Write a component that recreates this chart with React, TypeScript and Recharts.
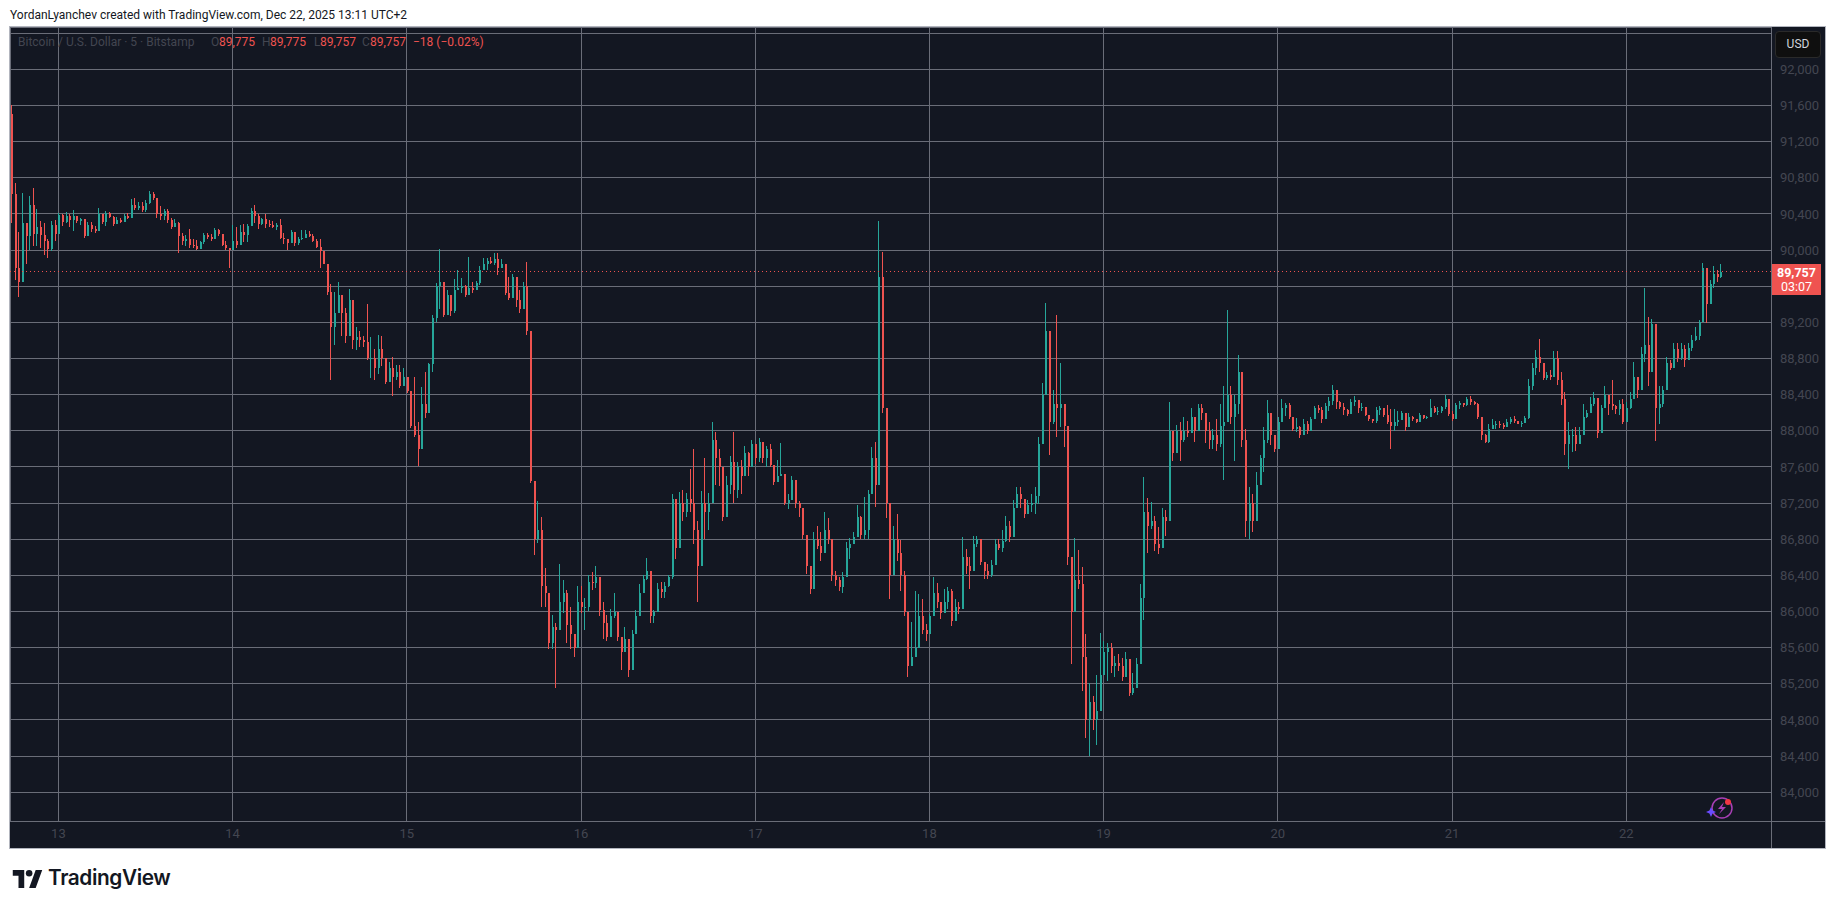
import { Bar, CartesianGrid, ComposedChart, ReferenceLine, XAxis, YAxis } from "recharts";

// bars every 30 minutes, one row per day
const highs = [
  // dec 12 evening
  91605,90740,90200,90630,90300,90600,90690,90450,90320,90300,90120,90320,90330,
  // dec 13
  90415,90400,90420,90400,90440,90350,90360,90330,90310,90310,90270,90470,90400,90430,90420,90380,90370,90360,90400,90410,90570,90580,90530,90530,90550,90650,90640,90550,90490,90450,90450,90350,90340,90310,90190,90170,90230,90120,90110,90100,90190,90190,90180,90240,90230,90170,90100,90020,
  // dec 14
  90280,90260,90280,90290,90290,90470,90500,90400,90360,90400,90330,90320,90300,90345,90190,90110,90220,90200,90140,90220,90220,90210,90180,90120,90120,89990,89830,89620,89540,89650,89500,89360,89570,89240,89150,89100,89050,89400,89040,88900,89060,89050,88760,88760,88820,88730,88730,88700,
  // dec 15
  88600,88340,88600,88100,88480,88650,88750,89280,89630,90010,89480,89560,89500,89680,89780,89690,89610,89920,89650,89660,89820,89910,89910,89920,89970,89970,89900,89830,89700,89740,89580,89560,89650,89870,89080,87370,87220,87050,86480,85960,85960,85870,86530,86350,86240,86050,85720,86280,
  // dec 16
  86280,86150,86400,86440,86500,86300,86110,85960,86030,86210,85830,85700,85830,85690,85800,86020,86300,86400,86590,86350,86020,86320,86330,86330,86400,87300,87120,87320,87340,87310,87580,87800,87000,87330,87700,87310,88100,87990,87800,87400,87500,87720,87990,87660,87680,87830,87770,87900,
  // dec 17
  87830,87920,87830,87830,87850,87530,87680,87870,87500,87300,87500,87400,87220,87080,86840,86450,86880,86950,86880,87100,87040,86710,86450,86380,86440,86770,86810,86880,87180,87060,87270,87340,87820,87880,90320,89980,87690,87080,86950,87080,86790,86450,85950,85880,86230,86190,86140,85860,
  // dec 18
  85970,86380,86320,86100,86250,86270,86250,86140,86100,86820,86690,86600,86840,86840,86670,86530,86530,86570,86800,86800,86900,87060,87000,87230,87380,87380,87190,87230,87300,87380,87930,88530,89410,89080,88450,89280,88750,88230,87980,86520,86810,86680,86490,85750,85210,85060,85300,85760,
  // dec 19
  85670,85650,85650,85510,85530,85490,85550,85340,85320,85490,86300,87490,87260,87210,87060,86930,87150,87120,88320,87890,88060,88100,88150,88110,88250,88100,88300,88300,88190,88100,88020,88130,88300,88490,89340,88490,88400,88840,88260,88020,87380,87300,87540,87730,88040,88340,88040,87900,
  // dec 20
  88150,88350,88310,88310,88140,88140,88050,88130,88110,88150,88270,88290,88260,88310,88370,88510,88400,88330,88310,88240,88350,88390,88310,88310,88220,88160,88130,88260,88270,88220,88290,88240,88240,88220,88220,88130,88200,88160,88130,88200,88180,88160,88350,88270,88260,88270,88400,88270,
  // dec 21
  88220,88310,88330,88310,88370,88390,88330,88310,88110,87960,88070,88130,88110,88110,88090,88130,88150,88160,88110,88110,88160,88570,88750,88890,89020,88690,88650,88670,88880,88880,88650,88430,88100,88020,88040,88040,88300,88230,88370,88430,88280,88280,88490,88350,88560,88280,88340,88350,
  // dec 22
  88320,88430,88760,88600,88930,89580,89260,89240,89020,88500,88500,88820,88780,88970,88970,88970,88950,88970,89060,89150,89230,89855,89730,89670,89820,89780,89840,
];

const lows = [
  90300,89670,89480,89850,89850,90000,90040,90040,90020,89950,89912,89990,90100,
  90300,90270,90300,90250,90210,90300,90280,90130,90150,90200,90190,90270,90290,90270,90350,90270,90290,90300,90350,90340,90370,90440,90440,90420,90420,90510,90550,90350,90330,90330,90300,90230,90250,89970,90060,90040,90020,90020,90000,90030,90070,90120,90100,90180,90160,90040,90000,89800,
  90000,90020,90130,90090,90090,90270,90300,90230,90280,90240,90250,90240,90220,90120,90070,90000,90080,90050,90060,90110,90140,90140,90090,90020,89805,89840,89500,88560,88950,89350,89050,88970,89140,88900,88890,88930,88930,88780,88580,88560,88630,88720,88520,88540,88390,88560,88470,88500,
  88420,88030,87930,87610,88080,88140,88400,88650,89200,89350,89260,89280,89270,89300,89560,89520,89480,89550,89520,89570,89610,89800,89780,89840,89830,89720,89800,89500,89450,89470,89370,89300,89460,89060,87420,86630,86760,86050,86050,85590,85590,85150,85960,85980,85650,85590,85500,85760,
  85980,85800,86010,86240,86260,85950,85700,85670,85820,85930,85670,85350,85650,85270,85450,85840,85950,86300,86350,85870,85870,85990,86150,86150,86270,86360,86580,87000,87000,87050,87100,86750,86100,86850,86800,86900,87400,87400,87390,87000,87080,87300,87200,87260,87300,87570,87500,87660,
  87630,87660,87640,87600,87600,87400,87480,87500,87180,87130,87230,87150,87050,86800,86420,86190,86560,86690,86560,86670,86750,86340,86280,86230,86210,86530,86580,86750,86840,86800,86800,86800,87340,87160,87900,88200,87030,86140,86490,86560,86230,85950,85270,85400,85550,85790,85750,85670,
  85820,86030,86040,85920,86030,86030,85840,85930,85970,86040,86420,86250,86650,86710,86510,86360,86360,86380,86580,86680,86660,86770,86770,87010,87190,87150,87040,87080,87100,87080,87190,87860,88750,87730,88080,87930,88040,87820,86520,85420,86230,86250,85120,84600,84400,84690,84520,85170,
  85340,85230,85320,85270,85340,85230,85270,85060,85080,85160,85560,85910,86650,86910,86670,86640,86930,86840,87150,87670,87780,87670,87880,87930,88020,87880,88000,88120,87860,87800,87800,87780,87820,87450,88150,88080,87670,88190,87820,86820,86800,86880,87080,87540,87540,87860,87840,87760,
  87990,88100,88160,88130,88000,87990,87920,87980,87960,88070,88140,88200,88090,88200,88220,88280,88240,88240,88180,88160,88250,88270,88200,88220,88160,88110,88090,88090,88180,88150,88070,87800,88000,88050,88130,88000,88110,88110,88090,88140,88130,88130,88220,88200,88180,88200,88240,88160,
  88110,88220,88240,88260,88270,88290,88290,88130,87900,87860,87870,88020,88020,88030,88020,88070,88070,88090,88070,88040,88090,88130,88450,88620,88650,88560,88560,88560,88670,88510,88280,87730,87580,87760,87780,87860,87950,88140,88210,88270,87920,88100,88300,88170,88230,88190,88170,88080,
  88100,88240,88430,88360,88470,88760,88490,88980,87890,88080,88260,88540,88670,88800,88760,88780,88710,88800,88880,88990,89000,89430,89190,89450,89580,89650,89690,
];

const closes = [
  90620,89800,89650,90300,90150,90500,90180,90250,90170,90100,90010,90280,90180,
  90390,90310,90380,90330,90380,90320,90340,90150,90280,90230,90210,90400,90310,90410,90370,90290,90330,90310,90380,90360,90500,90470,90490,90440,90520,90620,90580,90400,90380,90430,90330,90260,90300,90150,90100,90120,90060,90040,90010,90090,90170,90140,90120,90220,90180,90060,90020,90000,
  90100,90060,90200,90170,90270,90430,90380,90290,90340,90290,90280,90260,90280,90130,90120,90080,90200,90080,90120,90130,90180,90160,90100,90030,89990,89850,89540,89150,89300,89500,89300,89050,89450,89000,89040,89000,88980,88800,88800,88700,88900,88800,88540,88700,88600,88650,88500,88600,
  88440,88050,87950,87800,88300,88200,88740,89250,89600,89650,89280,89500,89320,89560,89580,89600,89500,89580,89560,89630,89780,89850,89880,89860,89900,89800,89850,89530,89470,89700,89450,89350,89600,89100,87440,86800,86900,86280,86200,85650,85830,85800,86100,86200,85850,85750,85600,86100,
  86050,86050,86330,86320,86380,86020,85870,85720,85950,86000,85720,85550,85700,85350,85750,85950,86200,86360,86450,85950,86000,86250,86220,86280,86380,87250,86700,87200,87100,87250,87200,86900,86500,87200,87100,87200,87900,87700,87600,87050,87400,87650,87350,87600,87500,87750,87600,87850,
  87700,87880,87700,87800,87620,87430,87500,87520,87200,87230,87460,87200,87150,86850,86500,86250,86800,86720,86650,86900,86800,86400,86350,86270,86380,86700,86750,86820,87050,86850,86900,87300,87700,87400,89700,88250,87200,86400,86800,86650,86400,86000,85400,85500,85600,85950,85800,85750,
  85950,86200,86100,85980,86100,86230,85900,86050,86030,86600,86500,86450,86750,86800,86550,86450,86400,86520,86750,86700,86780,86950,86830,87150,87300,87250,87080,87180,87200,87280,87850,88400,89100,88100,88300,88250,88300,88050,86600,86000,86350,86300,85500,84800,85000,84800,84900,85300,
  85550,85600,85400,85430,85400,85280,85480,85100,85150,85420,86150,87100,86950,87000,86750,86700,87050,87000,88000,87750,88000,87900,88000,87980,88150,88000,88250,88200,88000,87900,87950,87850,88050,88100,88400,88150,88300,88650,87900,87000,87200,87000,87400,87700,87900,88200,87950,87800,
  88100,88250,88280,88150,88020,88040,87950,88080,88000,88130,88250,88230,88130,88270,88330,88450,88320,88260,88230,88190,88320,88340,88250,88260,88180,88130,88110,88230,88250,88180,88100,88050,88100,88120,88200,88040,88150,88130,88100,88180,88140,88150,88250,88210,88220,88260,88350,88190,
  88130,88280,88310,88280,88350,88320,88300,88150,87950,87880,88020,88060,88080,88060,88040,88100,88130,88110,88080,88090,88140,88500,88700,88820,88750,88580,88620,88590,88800,88560,88350,87850,87950,87950,87850,87950,88150,88200,88300,88360,87980,88250,88400,88300,88270,88240,88300,88100,
  88250,88350,88600,88450,88850,88950,88650,89180,88250,88300,88450,88750,88700,88900,88800,88900,88780,88920,89000,89050,89200,89800,89400,89620,89740,89700,89757,
];

const firstOpen = 91500;
const firstBarTime = 12.73;
const barsPerDay = 48;
const dayTicks = [13, 14, 15, 16, 17, 18, 19, 20, 21, 22];
const priceTicks = [84000, 84400, 84800, 85200, 85600, 86000, 86400, 86800, 87200, 87600, 88000, 88400, 88800, 89200, 89600, 90000, 90400, 90800, 91200, 91600, 92000, 92400];
// these two sit under the USD button and the last price tag
const hiddenPriceLabels = [92400, 89600];
const lastPrice = 89757;

const UP = "#26a69a";
const DOWN = "#ef5350";
const GRID = "#6a6d78";
const BG = "#131722";
const DIM = "#434651";
const FONT = "Roboto, sans-serif";

const candles = closes.map((close, i) => {
  const open = i === 0 ? firstOpen : closes[i - 1];
  return {
    t: firstBarTime + i / barsPerDay,
    open,
    close,
    wick: [Math.min(lows[i], open, close), Math.max(highs[i], open, close)],
  };
});

function Candle(props: any) {
  const { x, y, width, height, payload } = props;
  const { open, close, wick } = payload;
  const color = close >= open ? UP : DOWN;
  const k = height / (wick[1] - wick[0]);
  const cx = Math.round(x + width / 2);
  const top = y + (wick[1] - Math.max(open, close)) * k;
  const h = Math.max(1, Math.abs(open - close) * k);
  return (
    <g shapeRendering="crispEdges">
      <rect x={cx} y={y} width={1} height={height} fill={color} />
      <rect x={cx} y={top} width={2} height={h} fill={color} />
    </g>
  );
}

const box = (left: number, top: number, width: number, height: number, background: string) => (
  <div style={{ position: "absolute", left, top, width, height, background }} />
);

const legendBits: [number, string, string][] = [
  [18, "Bitcoin / U.S. Dollar · 5 · Bitstamp", DIM],
  [211, "O", DIM],
  [219, "89,775", DOWN],
  [262, "H", DIM],
  [270, "89,775", DOWN],
  [314, "L", DIM],
  [320, "89,757", DOWN],
  [362, "C", DIM],
  [370, "89,757", DOWN],
  [413, "−18 (−0.02%)", DOWN],
];

export default function App() {
  return (
    <div style={{ position: "absolute", left: 0, top: 0, width: 1835, height: 909, background: "#fff", fontFamily: FONT, overflow: "hidden" }}>
      <div style={{ position: "absolute", left: 10, top: 8, fontSize: 12, color: "#131722", whiteSpace: "nowrap" }}>
        YordanLyanchev created with TradingView.com, Dec 22, 2025 13:11 UTC+2
      </div>

      <div style={{ position: "absolute", left: 9, top: 26, width: 1815, height: 821, background: BG, border: "1px solid #b2b5be" }} />
      {box(10, 821, 1815, 1, GRID)}
      {box(1771, 27, 1, 821, GRID)}

      <div style={{ position: "absolute", left: 0, top: 0 }}>
        <ComposedChart
          width={1835}
          height={909}
          data={candles}
          margin={{ top: 27, left: 10, right: 10, bottom: 61 }}
          barCategoryGap={0}
        >
          <CartesianGrid stroke={GRID} shapeRendering="crispEdges" />
          <XAxis
            dataKey="t"
            type="number"
            domain={[12.722, 22.831]}
            allowDataOverflow
            ticks={dayTicks}
            height={27}
            axisLine={false}
            tickSize={0}
            tickMargin={8}
            tick={{ fill: DIM, fontSize: 13, fontFamily: FONT }}
          />
          <YAxis
            orientation="right"
            type="number"
            domain={[83682, 92468]}
            allowDataOverflow
            ticks={priceTicks}
            width={54}
            axisLine={false}
            tickSize={0}
            tickMargin={9}
            tick={{ fill: DIM, fontSize: 13, fontFamily: FONT }}
            tickFormatter={(v: number) => (hiddenPriceLabels.includes(v) ? "" : v.toLocaleString("en-US"))}
          />
          <ReferenceLine y={lastPrice} stroke={DOWN} strokeDasharray="1 3" shapeRendering="crispEdges" />
          <Bar dataKey="wick" barSize={3} shape={Candle} isAnimationActive={false} />
        </ComposedChart>
      </div>

      {legendBits.map(([left, text, color]) => (
        <div key={left} style={{ position: "absolute", left, top: 35, fontSize: 12, color, whiteSpace: "nowrap" }}>
          {text}
        </div>
      ))}

      <div style={{ position: "absolute", left: 1775, top: 31, width: 44, height: 25, background: "#0f0f0f", border: "1px solid #2a2a2a", borderRadius: 4, color: "#d1d4dc", fontSize: 12, lineHeight: "25px", textAlign: "center" }}>
        USD
      </div>
      <div style={{ position: "absolute", left: 1772, top: 264, width: 49, height: 31, background: DOWN, color: "#fff", fontSize: 12.5, lineHeight: "14px", textAlign: "center", paddingTop: 2, boxSizing: "border-box" }}>
        <div style={{ fontWeight: 700 }}>89,757</div>
        <div>03:07</div>
      </div>

      <svg style={{ position: "absolute", left: 1705, top: 794 }} width={30} height={26} viewBox="0 0 30 26">
        <circle cx={17} cy={14} r={10} fill="none" stroke="#a83fb5" strokeWidth={1.5} />
        <path d="M19 8l-6 7h4l-3 5 7-7h-4z" fill="#a83fb5" />
        <circle cx={23} cy={8} r={3} fill="#f23645" />
        <path d="M6 13l1.6 3.4L11 18l-3.4 1.6L6 23l-1.6-3.4L1 18l3.4-1.6z" fill="#6a4cff" />
      </svg>

      <svg style={{ position: "absolute", left: 12, top: 870 }} width={31} height={18} viewBox="0 0 36 22">
        <path d="M14 22H7V7H0V0h14v22ZM28 22h-8L28 0h8l-8 22Z" fill="#131722" />
        <circle cx={20} cy={4} r={4} fill="#131722" />
      </svg>
      <div style={{ position: "absolute", left: 48, top: 865, fontFamily: "Inter, sans-serif", fontSize: 20.8, fontWeight: 600, color: "#131722", letterSpacing: -0.4 }}>
        TradingView
      </div>
    </div>
  );
}
